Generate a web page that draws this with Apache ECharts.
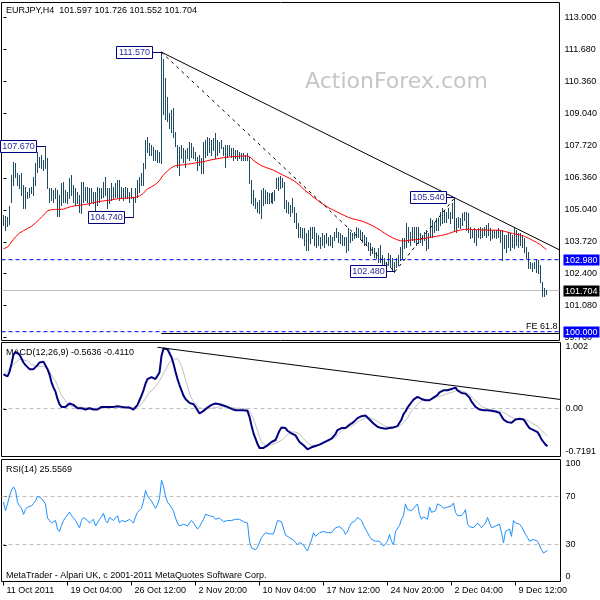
<!DOCTYPE html>
<html><head><meta charset="utf-8">
<script src="https://cdn.jsdelivr.net/npm/echarts@6/dist/echarts.min.js"></script>
<style>html,body{margin:0;padding:0;background:#fff}#c{width:600px;height:600px}</style>
</head><body><div id="c"></div>
<script>
// ---------- data ----------
const xTickIndex = [0, 32, 64, 96, 128, 160, 192, 224, 256];
const xTickLabels = ['11 Oct 2011', '19 Oct 04:00', '26 Oct 12:00', '2 Nov 20:00', '10 Nov 04:00', '17 Nov 12:00', '24 Nov 20:00', '2 Dec 04:00', '9 Dec 12:00'];
const priceTicks = [99.76, 101.08, 102.40, 103.72, 105.04, 106.36, 107.72, 109.04, 110.36, 111.68, 113.00];
const macdTicks = [-0.7191, 0, 1.002];
const macdTickLabels = ['-0.7191', '0.00', '1.002'];
const rsiTicks = [0, 30, 70, 100];

const high = [
104.81,104.78,104.74,105.19,106.48,107.02,106.98,106.56,106.48,106.56,
106.06,105.98,105.77,105.94,105.98,106.40,106.98,107.43,107.23,107.31,
107.10,107.67,107.19,105.94,105.94,105.86,105.94,105.86,105.65,106.15,
106.19,105.86,105.77,106.36,106.48,106.06,105.94,105.77,105.65,106.19,
106.19,105.98,105.98,105.94,105.94,105.77,105.77,105.98,105.94,105.94,
106.19,106.40,105.94,105.94,106.15,105.98,106.15,106.27,106.27,105.98,
105.94,105.98,105.94,105.77,105.94,105.57,105.94,106.27,106.40,106.56,
106.98,107.93,108.06,107.81,107.73,107.64,107.52,107.52,107.43,111.57,
111.30,110.50,109.70,109.05,109.18,109.26,108.27,107.73,107.64,107.73,
107.60,107.52,107.60,107.85,107.81,107.64,107.43,107.23,107.31,107.19,
107.85,107.93,108.06,108.02,107.93,108.02,108.22,107.93,107.85,107.93,
107.64,107.73,107.73,107.73,107.60,107.60,107.52,107.52,107.43,107.39,
107.39,107.31,107.39,107.23,106.27,105.86,105.52,105.36,105.44,105.86,
105.94,105.86,105.77,105.73,105.73,105.77,105.86,106.36,106.40,106.44,
106.36,106.19,105.44,105.36,105.23,105.52,105.15,104.90,104.49,104.32,
104.28,104.28,104.07,104.20,104.32,104.32,104.32,104.07,103.99,103.91,
104.07,103.99,104.07,103.91,103.99,103.91,104.11,104.28,104.11,104.07,
103.99,103.91,103.91,104.28,104.11,104.07,104.11,104.32,104.28,104.20,
104.11,103.99,103.91,103.70,103.66,103.49,103.45,103.28,103.45,103.57,
103.16,103.03,102.87,103.24,103.16,103.03,102.87,103.03,103.16,103.49,
103.86,103.86,104.49,104.32,104.11,104.32,104.32,104.32,104.32,104.07,
103.99,104.11,104.20,104.07,104.69,104.61,104.49,104.69,104.69,104.94,
105.11,105.03,104.94,105.11,104.94,105.32,105.54,104.69,104.74,104.69,
104.90,104.94,104.94,104.90,104.32,104.20,104.28,104.20,104.28,104.32,
104.28,104.32,104.40,104.49,104.28,104.20,104.20,104.20,104.28,104.20,
104.20,103.99,103.99,104.11,104.07,103.99,104.32,104.20,104.07,104.07,
103.99,103.86,103.49,103.28,102.87,102.83,102.87,102.95,102.95,102.74,
102.04,101.79,101.726];

const low = [
104.40,104.20,104.36,104.45,105.36,106.06,106.40,106.06,105.94,105.65,
105.11,105.11,105.52,105.57,105.73,105.65,106.06,106.60,106.81,106.77,
106.69,106.77,105.94,105.36,105.44,105.36,105.52,104.80,104.78,105.23,
105.36,105.36,105.32,105.52,105.65,105.36,105.23,105.32,104.94,104.90,
105.36,105.44,105.36,105.23,105.36,105.32,105.03,105.23,105.36,105.52,
105.57,105.65,105.11,105.32,105.44,105.52,105.57,105.57,105.44,105.52,
105.44,105.52,105.52,105.36,105.52,104.74,105.36,105.57,105.77,106.06,
106.06,106.77,107.43,107.31,107.31,107.10,107.10,107.02,107.02,106.98,
109.00,108.80,108.70,108.43,108.27,108.06,107.68,106.81,106.48,107.19,
107.02,106.81,107.19,107.10,107.23,107.19,107.10,106.69,106.90,106.56,
106.56,107.23,107.31,107.43,107.31,107.52,107.19,107.31,107.43,107.60,
107.31,106.81,107.23,107.31,107.23,107.10,107.19,107.10,107.19,107.10,
107.10,107.10,107.10,106.15,105.32,105.23,105.11,104.94,104.90,104.69,
105.23,105.32,105.32,105.32,105.36,105.32,105.44,105.94,105.86,105.94,
105.98,105.11,104.94,104.90,104.78,104.94,104.53,104.28,103.91,103.91,
103.86,103.57,103.37,103.37,103.66,103.86,103.57,103.49,103.57,103.45,
103.57,103.49,103.66,103.57,103.57,103.49,103.78,103.91,103.70,103.66,
103.57,103.57,103.28,103.37,103.70,103.78,103.86,103.91,103.91,103.86,
103.70,103.57,103.57,103.37,103.16,103.24,103.07,103.03,102.87,102.87,
102.62,102.66,102.62,102.74,102.66,102.53,102.48,102.66,102.74,102.95,
103.03,103.45,103.49,103.70,103.57,103.78,103.70,103.57,103.66,103.70,
103.57,103.78,103.37,103.45,103.91,103.91,104.11,104.20,104.20,104.40,
104.49,104.53,104.53,104.69,104.49,104.69,104.20,104.11,104.32,104.28,
104.40,104.61,104.20,104.11,103.86,103.91,103.70,103.57,103.91,103.86,
103.91,103.99,103.91,103.99,103.78,103.86,103.91,103.86,103.91,103.70,
102.98,103.45,103.28,103.49,103.37,103.49,103.45,103.57,103.49,103.57,
103.49,103.28,103.03,102.62,102.62,102.53,102.62,102.45,102.41,102.04,
101.47,101.47,101.552];

const ma = [
103.43,103.46,103.50,103.60,103.71,103.82,103.92,104.00,104.08,104.14,104.18,
104.22,104.27,104.32,104.36,104.42,104.50,104.57,104.65,104.74,104.82,104.90,
105.00,105.03,105.05,105.06,105.06,105.06,105.06,105.07,105.07,105.10,105.13,
105.16,105.18,105.20,105.21,105.22,105.23,105.24,105.26,105.27,105.28,105.29,
105.31,105.33,105.35,105.37,105.39,105.40,105.41,105.42,105.43,105.44,105.45,
105.46,105.48,105.50,105.51,105.52,105.52,105.53,105.53,105.54,105.54,105.55,
105.56,105.58,105.61,105.66,105.72,105.80,105.90,105.95,105.99,106.04,106.09,
106.16,106.24,106.36,106.48,106.56,106.64,106.72,106.78,106.84,106.87,106.88,
106.89,106.89,106.90,106.91,106.93,106.94,106.95,106.97,106.98,106.99,107.01,
107.02,107.03,107.05,107.07,107.09,107.11,107.13,107.14,107.16,107.17,107.19,
107.20,107.21,107.22,107.23,107.24,107.24,107.25,107.25,107.26,107.26,107.27,
107.27,107.27,107.25,107.20,107.10,107.04,106.98,106.93,106.88,106.83,106.81,
106.78,106.75,106.72,106.69,106.65,106.61,106.57,106.52,106.48,106.44,106.40,
106.36,106.32,106.27,106.22,106.15,106.08,106.01,105.93,105.84,105.79,105.73,
105.66,105.58,105.52,105.46,105.39,105.33,105.28,105.23,105.18,105.12,105.08,
105.04,105.00,104.96,104.91,104.87,104.84,104.80,104.76,104.72,104.69,104.67,
104.65,104.63,104.61,104.59,104.56,104.53,104.49,104.46,104.42,104.38,104.34,
104.29,104.24,104.18,104.12,104.07,104.02,103.97,103.93,103.88,103.84,103.81,
103.78,103.76,103.75,103.75,103.76,103.78,103.79,103.80,103.80,103.81,103.82,
103.83,103.84,103.86,103.87,103.89,103.90,103.92,103.93,103.95,103.96,103.98,
104.00,104.01,104.03,104.06,104.09,104.12,104.15,104.17,104.20,104.21,104.22,
104.23,104.24,104.24,104.23,104.23,104.22,104.22,104.22,104.21,104.21,104.21,
104.20,104.20,104.20,104.20,104.20,104.20,104.20,104.19,104.17,104.15,104.13,
104.11,104.09,104.06,104.05,104.03,104.02,104.00,103.97,103.94,103.91,103.87,
103.82,103.78,103.74,103.70,103.65,103.60,103.53,103.46,103.40];

const macd = [
0.52,0.50,0.49,0.56,0.68,0.82,0.86,0.86,0.82,0.76,
0.70,0.66,0.63,0.60,0.58,0.60,0.63,0.66,0.70,0.71,
0.71,0.69,0.60,0.52,0.40,0.32,0.26,0.15,0.07,0.03,
0.02,0.03,0.06,0.08,0.07,0.06,0.03,0.01,0.00,0.01,
0.00,-0.01,0.00,0.01,0.00,-0.01,-0.02,-0.01,0.01,0.03,
0.02,0.03,0.01,0.03,0.04,0.03,0.04,0.04,0.03,0.03,
0.03,0.02,0.03,0.02,0.02,-0.01,0.01,0.06,0.13,0.20,
0.28,0.38,0.45,0.48,0.48,0.47,0.45,0.44,0.55,0.80,
0.91,0.92,0.90,0.84,0.78,0.68,0.56,0.45,0.36,0.28,
0.20,0.15,0.12,0.09,0.08,0.07,0.03,-0.02,-0.07,-0.05,
-0.03,-0.01,0.02,0.04,0.06,0.08,0.08,0.07,0.07,0.06,
0.05,0.04,0.03,0.01,0.00,-0.01,-0.02,-0.02,-0.02,-0.02,
-0.02,-0.02,-0.03,-0.12,-0.25,-0.37,-0.45,-0.53,-0.59,-0.60,
-0.59,-0.59,-0.55,-0.52,-0.50,-0.49,-0.47,-0.40,-0.33,-0.28,
-0.26,-0.29,-0.33,-0.36,-0.37,-0.38,-0.40,-0.45,-0.50,-0.53,
-0.55,-0.57,-0.61,-0.60,-0.58,-0.57,-0.56,-0.55,-0.54,-0.52,
-0.51,-0.49,-0.48,-0.47,-0.45,-0.43,-0.38,-0.32,-0.29,-0.29,
-0.29,-0.29,-0.27,-0.24,-0.22,-0.20,-0.17,-0.14,-0.12,-0.11,
-0.10,-0.10,-0.13,-0.16,-0.19,-0.22,-0.25,-0.27,-0.28,-0.29,
-0.29,-0.30,-0.30,-0.29,-0.29,-0.28,-0.27,-0.26,-0.23,-0.16,
-0.08,-0.04,0.02,0.06,0.10,0.14,0.17,0.18,0.17,0.15,
0.14,0.13,0.12,0.13,0.15,0.17,0.18,0.21,0.25,0.27,
0.28,0.28,0.28,0.29,0.30,0.31,0.32,0.28,0.25,0.24,
0.24,0.23,0.21,0.17,0.11,0.07,0.03,0.01,-0.01,-0.01,
-0.02,-0.02,-0.02,-0.03,-0.03,-0.03,-0.04,-0.05,-0.06,-0.09,
-0.16,-0.19,-0.20,-0.21,-0.21,-0.19,-0.16,-0.15,-0.15,-0.15,
-0.16,-0.20,-0.25,-0.29,-0.31,-0.32,-0.33,-0.35,-0.40,-0.46,
-0.50,-0.54,-0.5636];

const signal = [
0.52,0.54,0.57,0.60,0.64,0.67,0.70,0.73,0.75,0.75,
0.74,0.74,0.72,0.69,0.67,0.66,0.65,0.64,0.64,0.64,
0.64,0.63,0.60,0.56,0.51,0.46,0.42,0.35,0.27,0.21,
0.16,0.12,0.08,0.06,0.04,0.04,0.03,0.03,0.03,0.02,
0.02,0.02,0.02,0.02,0.01,0.01,0.01,0.01,0.01,0.01,
0.01,0.02,0.02,0.02,0.02,0.02,0.03,0.03,0.03,0.03,
0.03,0.03,0.03,0.02,0.02,0.02,0.02,0.02,0.04,0.07,
0.11,0.16,0.21,0.25,0.28,0.30,0.34,0.37,0.42,0.48,
0.54,0.59,0.65,0.70,0.73,0.75,0.76,0.76,0.71,0.64,
0.55,0.44,0.34,0.24,0.16,0.11,0.07,0.04,0.02,0.01,
0.00,0.00,0.00,0.01,0.01,0.02,0.02,0.02,0.03,0.03,
0.03,0.02,0.02,0.02,0.02,0.01,0.01,0.01,0.01,0.01,
0.00,0.00,0.00,-0.03,-0.08,-0.16,-0.24,-0.33,-0.42,-0.49,
-0.53,-0.56,-0.56,-0.55,-0.54,-0.53,-0.52,-0.51,-0.49,-0.47,
-0.45,-0.42,-0.39,-0.37,-0.35,-0.34,-0.35,-0.36,-0.38,-0.41,
-0.45,-0.48,-0.51,-0.53,-0.55,-0.56,-0.56,-0.55,-0.54,-0.53,
-0.52,-0.50,-0.49,-0.48,-0.46,-0.45,-0.43,-0.40,-0.37,-0.34,
-0.31,-0.30,-0.28,-0.27,-0.26,-0.24,-0.22,-0.20,-0.18,-0.16,
-0.15,-0.14,-0.13,-0.13,-0.14,-0.15,-0.17,-0.19,-0.21,-0.23,
-0.25,-0.26,-0.27,-0.27,-0.27,-0.27,-0.27,-0.27,-0.26,-0.24,
-0.21,-0.19,-0.14,-0.08,-0.03,-0.01,0.03,0.07,0.10,0.12,
0.13,0.14,0.14,0.14,0.15,0.16,0.17,0.18,0.18,0.20,
0.21,0.22,0.23,0.24,0.25,0.26,0.27,0.28,0.28,0.27,
0.26,0.25,0.23,0.21,0.18,0.15,0.12,0.10,0.07,0.04,
0.02,0.01,0.00,-0.01,-0.01,-0.02,-0.02,-0.03,-0.03,-0.04,
-0.05,-0.07,-0.09,-0.11,-0.12,-0.14,-0.15,-0.16,-0.16,-0.16,
-0.16,-0.16,-0.17,-0.19,-0.21,-0.23,-0.24,-0.26,-0.29,-0.32,
-0.35,-0.38,-0.411];

const rsi = [
65,58,63.6,70,75,77.5,74.7,65,62,60,
55,59,61,60,62,64,66,70,70.5,68,
66,63.6,52,50,48,49,50,43,41,46,
50,52.5,54,57,54,52.5,50,47,44,50,
52.5,51,50,48,49,51,45.5,48,51,53,
56,50,48,52.5,51,50,52,54,48,50,
51,49,50,51,50,48,53,56.7,58,60,
66,74.7,70,69,66,65,60,63,68,83,
78,70,65,63,62,58,52,48,45.5,46,
47,46,45.5,48,50,48,47,43,45,48,
51,55,54,54,55,53,51,52.5,52,51,
49,48,50,51,50,50,51,50,51,50,
49,49,48,33,27.5,28,26,28,29,36,
38,40,40,39,38.6,39,40,50,49,49,
48,38,37,36,36,34,32,30,32,31,
30,27,25,30,34,40,37,36,40,40,
41,41,40,41,40,40,44,45.5,45,45,
42,38.6,41,45,48,49,50,52.5,51,50,
46,43,40,37,34.5,34,33,34.5,33,31.7,
29,31,33,38.6,33,30,41,40,46,51,
54,63.6,59,58,58,60,61,63.6,55,51,
53,54,51,61,56.7,57,58,63.6,63,62,
60,59,61,61,62,64.4,56.7,54,54,54,
56,59,47,45,44,44,43.3,48,46,44,
46,48,52.5,48,44,45,45.5,46,47,40,
31.7,41,42,43,37,50,48,48,47,45,
44,38.6,36,33,34,34.5,34.5,33,31.7,26,
23.3,24,25.56];

// drawing objects (bar index, price)
const zigzag = [[21, 107.67, '107.670'], [65, 104.74, '104.740'], [79, 111.57, '111.570'], [196, 102.48, '102.480'], [226, 105.54, '105.540']];
const trendMain = [[79, 111.57], [226, 105.54]];
const fiboLeg1 = [[79, 111.57], [196, 102.48]];
const fiboLeg2 = [[196, 102.48], [226, 105.54]];
const trendMacd = [[77, 0.93], [226, 0.347]];
const feLevel = 99.92;
const hLevels = [102.98, 100.0, 101.704];
const priceTags = [[102.98, '102.980', '#0000ff'], [101.704, '101.704', '#000000'], [100.0, '100.000', '#0000ff']];

// ---------- chart ----------
const X_MIN = -1, X_MAX = 278.5;
const FONT = '9px "Liberation Sans", Arial, sans-serif';
const BAR = '#1d4c63';
const BLUE = 'rgb(0,0,255)';

function ray(a, b) {
  const y = a[1] + (b[1] - a[1]) * (X_MAX - a[0]) / (b[0] - a[0]);
  return [a, [X_MAX, y]];
}
const crisp = v => Math.round(v - 0.5) + 0.5;

const chart = echarts.init(document.getElementById('c'), null, {renderer: 'canvas'});

const gridBase = {show: true, borderColor: '#000', borderWidth: 1, backgroundColor: 'transparent', left: 1.5, right: 39.5};
const xBase = {type: 'value', min: X_MIN, max: X_MAX, splitLine: {show: false}};
const yBase = {
  type: 'value', position: 'right', scale: true,
  axisLine: {show: false}, splitLine: {show: false},
  axisTick: {show: true, length: 3, lineStyle: {color: '#000'}},
  axisLabel: {color: '#000', fontSize: 9, fontFamily: '"Liberation Sans", Arial', align: 'left', margin: 5}
};

function hline(gridIdx, data, color, type, z) {
  return {
    type: 'custom', xAxisIndex: gridIdx, yAxisIndex: gridIdx, silent: true, z: z || 3,
    data: data, encode: {x: [0, 1], y: 2},
    renderItem: (p, api) => {
      const a = api.coord([api.value(0), api.value(2)]);
      const b = api.coord([api.value(1), api.value(2)]);
      const y = crisp(a[1]);
      return {type: 'line', shape: {x1: a[0], y1: y, x2: b[0], y2: y},
        style: {stroke: color, lineWidth: 1, lineDash: type}};
    }
  };
}

// dashed level line drawn as a polyline series (keeps the pure line colour)
function levelSeries(gridIdx, value, color, z) {
  return {type: 'line', xAxisIndex: gridIdx, yAxisIndex: gridIdx, silent: true, z: z || 5, symbol: 'none',
    color: color, data: [[X_MIN, value], [X_MAX, value]],
    lineStyle: {color: color, width: 1, type: [4, 3], opacity: 1}, animation: false};
}

function lineSeries(gridIdx, data, color, width, dash, z) {
  return {type: 'line', xAxisIndex: gridIdx, yAxisIndex: gridIdx, data: data, symbol: 'none', silent: true,
    z: z || 3, lineStyle: {color: color, width: width, type: dash || 'solid'}, animation: false};
}

const idx = high.map((_, i) => i);

const option = {
  animation: false,
  backgroundColor: '#ffffff',
  textStyle: {fontFamily: '"Liberation Sans", Arial, sans-serif'},
  grid: [
    Object.assign({}, gridBase, {top: 2.5, height: 338}),
    Object.assign({}, gridBase, {top: 342.5, height: 114}),
    Object.assign({}, gridBase, {top: 459.5, height: 122})
  ],
  xAxis: [
    Object.assign({}, xBase, {gridIndex: 0, show: false}),
    Object.assign({}, xBase, {gridIndex: 1, show: false}),
    Object.assign({}, xBase, {gridIndex: 2, axisLine: {show: false},
      axisTick: {show: true, length: 4, lineStyle: {color: '#000'}, customValues: xTickIndex},
      axisLabel: {customValues: xTickIndex, color: '#000', fontSize: 9, align: 'left', margin: 5, padding: [0, 0, 0, 3],
        formatter: v => xTickLabels[xTickIndex.indexOf(Math.round(v))] || ''}})
  ],
  yAxis: [
    Object.assign({}, yBase, {gridIndex: 0, min: 99.636, max: 113.62,
      axisTick: Object.assign({}, yBase.axisTick, {customValues: priceTicks}),
      axisLabel: Object.assign({}, yBase.axisLabel, {customValues: priceTicks, formatter: v => v.toFixed(3)})}),
    Object.assign({}, yBase, {gridIndex: 1, min: -0.7191, max: 1.002,
      axisTick: Object.assign({}, yBase.axisTick, {customValues: macdTicks}),
      axisLabel: Object.assign({}, yBase.axisLabel, {customValues: macdTicks,
        verticalAlignMinLabel: 'bottom', verticalAlignMaxLabel: 'top',
        formatter: v => {
          let k = 0, best = 1e9;
          macdTicks.forEach((t, j) => { if (Math.abs(t - v) < best) { best = Math.abs(t - v); k = j; } });
          return macdTickLabels[k];
        }})}),
    Object.assign({}, yBase, {gridIndex: 2, min: 0, max: 100,
      axisTick: Object.assign({}, yBase.axisTick, {customValues: rsiTicks}),
      axisLabel: Object.assign({}, yBase.axisLabel, {customValues: rsiTicks,
        verticalAlignMinLabel: 'bottom', verticalAlignMaxLabel: 'top',
        formatter: v => String(Math.round(v))})})
  ],
  graphic: [
    {type: 'text', x: 305, y: 82, z: -10, silent: true,
      style: {text: 'ActionForex.com', font: '22px "DejaVu Sans", Verdana, sans-serif', fill: '#c6c6c6', verticalAlign: 'middle'}},
    {type: 'text', x: 6, y: 10.7, style: {text: 'EURJPY,H4  101.597 101.726 101.552 101.704', font: FONT, fill: '#000', verticalAlign: 'middle'}},
    {type: 'text', x: 6, y: 352.7, style: {text: 'MACD(12,26,9) -0.5636 -0.4110', font: FONT, fill: '#000', verticalAlign: 'middle'}},
    {type: 'text', x: 6, y: 469.7, style: {text: 'RSI(14) 25.5569', font: FONT, fill: '#000', verticalAlign: 'middle'}},
    {type: 'text', x: 6, y: 575.3, style: {text: 'MetaTrader - Alpari UK, c 2001-2011 MetaQuotes Software Corp.', font: FONT, fill: '#000', verticalAlign: 'middle'}}
  ],
  series: [
    // horizontal levels (behind bars)
    hline(0, [[X_MIN, X_MAX, hLevels[2]]], '#c0c0c0', null, 1),
    hline(0, [[79, X_MAX, feLevel]], '#000000', null, 1),
    // price bars
    {
      type: 'custom', xAxisIndex: 0, yAxisIndex: 0, silent: true, z: 2,
      data: idx.map(i => [i, high[i], low[i]]), encode: {x: 0, y: [1, 2]},
      renderItem: (p, api) => {
        const a = api.coord([api.value(0), api.value(1)]);
        const b = api.coord([api.value(0), api.value(2)]);
        const x = crisp(a[0]);
        return {type: 'line', shape: {x1: x, y1: Math.round(a[1]), x2: x, y2: Math.round(b[1]) + 1},
          style: {stroke: BAR, lineWidth: 1}};
      }
    },
    lineSeries(0, idx.map(i => [i, ma[i]]), '#ff0000', 1, 'solid', 4),
    levelSeries(0, hLevels[0], BLUE, 5),
    levelSeries(0, hLevels[1], BLUE, 5),
    lineSeries(0, ray(trendMain[0], trendMain[1]), '#000000', 1, 'solid', 5),
    lineSeries(0, fiboLeg1, '#000000', 1, [3, 4], 5),
    lineSeries(0, fiboLeg2, '#000000', 1, [3, 4], 5),
    // zigzag price boxes
    {
      type: 'custom', xAxisIndex: 0, yAxisIndex: 0, silent: true, z: 8, clip: false,
      data: zigzag.map(d => [d[0], d[1]]), encode: {x: 0, y: 1},
      renderItem: (p, api) => {
        const d = zigzag[p.dataIndex];
        const c = api.coord([api.value(0), api.value(1)]);
        const y = crisp(c[1]);
        const r = Math.round(c[0]) - 9 + 0.5;
        return {type: 'group', children: [
          {type: 'line', shape: {x1: r, y1: y, x2: c[0], y2: y}, style: {stroke: '#000080', lineWidth: 1}},
          {type: 'rect', shape: {x: r - 36, y: y - 6, width: 36, height: 12}, style: {fill: '#ffffff', stroke: '#000080', lineWidth: 1}},
          {type: 'text', style: {text: d[2], x: r - 18, y: y + 0.5, align: 'center', verticalAlign: 'middle', font: FONT, fill: '#2b2b9b'}}
        ]};
      }
    },
    // FE label
    {
      type: 'custom', xAxisIndex: 0, yAxisIndex: 0, silent: true, z: 8, clip: false,
      data: [[X_MAX, feLevel]], encode: {x: 0, y: 1},
      renderItem: (p, api) => {
        const c = api.coord([api.value(0), api.value(1)]);
        return {type: 'text', style: {text: 'FE 61.8', x: c[0] - 2, y: c[1] - 7, align: 'right', verticalAlign: 'middle', font: FONT, fill: '#000'}};
      }
    },
    // right-side price tags
    {
      type: 'custom', xAxisIndex: 0, yAxisIndex: 0, silent: true, z: 9, clip: false,
      data: priceTags.map(d => [X_MAX, d[0]]), encode: {x: 0, y: 1},
      renderItem: (p, api) => {
        const d = priceTags[p.dataIndex];
        const c = api.coord([api.value(0), api.value(1)]);
        const y = Math.round(c[1]);
        return {type: 'group', children: [
          {type: 'rect', shape: {x: c[0] + 4, y: y - 5.5, width: 36, height: 11}, style: {fill: d[2]}},
          {type: 'text', style: {text: d[1], x: c[0] + 5.5, y: y + 0.5, align: 'left', verticalAlign: 'middle', font: FONT, fill: '#ffffff'}}
        ]};
      }
    },
    // MACD panel
    hline(1, [[X_MIN, X_MAX, 0]], '#c0c0c0', [4, 3], 1),
    lineSeries(1, idx.map(i => [i, signal[i]]), '#c0c0c0', 1, 'solid', 3),
    lineSeries(1, idx.map(i => [i, macd[i]]), '#000080', 2, 'solid', 4),
    lineSeries(1, ray(trendMacd[0], trendMacd[1]), '#000000', 1, 'solid', 5),
    // RSI panel
    hline(2, [[X_MIN, X_MAX, 70], [X_MIN, X_MAX, 30]], '#c0c0c0', [4, 3], 1),
    lineSeries(2, idx.map(i => [i, rsi[i]]), '#1e90ff', 1, 'solid', 4)
  ]
};
chart.setOption(option);
</script>
</body></html>
